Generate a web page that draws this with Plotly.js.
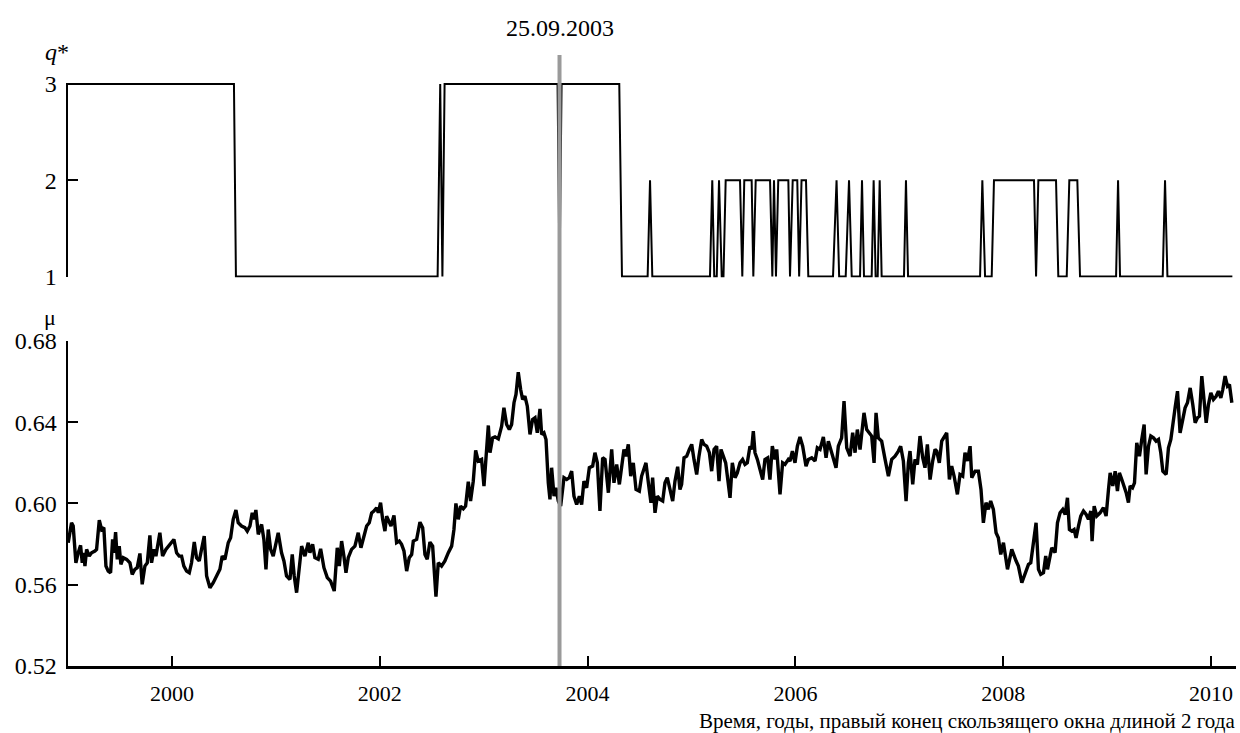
<!DOCTYPE html>
<html>
<head>
<meta charset="utf-8">
<script src="https://cdn.plot.ly/plotly-3.0.1.min.js"></script>
<style>html,body{margin:0;padding:0;background:#fff;}#chart{width:1240px;height:733px;}</style>
</head>
<body>
<div id="chart"></div>
<script>
// ---- Data ----
// q* : optimal number of components (vertices of the weekly step line)
const qYears = [1999.0, 2000.597, 2000.616, 2002.557, 2002.582, 2002.603, 2002.624,
  2003.711, 2003.730, 2003.750, 2004.305, 2004.331,
  2004.578, 2004.601, 2004.623,
  2005.178, 2005.200, 2005.219, 2005.243, 2005.265, 2005.291, 2005.308, 2005.329,
  2005.467, 2005.489, 2005.508, 2005.579, 2005.595, 2005.618, 2005.756, 2005.778,
  2005.794, 2005.813, 2005.835, 2005.932, 2005.948, 2005.974, 2006.018, 2006.036,
  2006.059, 2006.102, 2006.124,
  2006.362, 2006.396, 2006.421, 2006.484, 2006.516, 2006.542, 2006.622, 2006.641,
  2006.660, 2006.734, 2006.753, 2006.772, 2006.792, 2006.811, 2006.830,
  2007.045, 2007.064, 2007.084,
  2007.777, 2007.799, 2007.825, 2007.889, 2007.911, 2008.296, 2008.316, 2008.338,
  2008.508, 2008.530, 2008.611, 2008.636, 2008.713, 2008.739,
  2009.086, 2009.105, 2009.124, 2009.535, 2009.557, 2009.580, 2010.205];
const qValues = [3, 3, 1, 1, 3, 1, 3,
  3, 1, 3, 3, 1,
  1, 2, 1,
  1, 2, 1, 1, 2, 1, 1, 2,
  2, 1, 2, 2, 1, 2, 2, 1,
  2, 1, 2, 2, 1, 2, 2, 1,
  2, 2, 1,
  1, 2, 1, 1, 2, 1, 1, 2,
  1, 1, 2, 1, 1, 2, 1,
  1, 2, 1,
  1, 2, 1, 1, 2, 2, 1, 2,
  2, 1, 1, 2, 2, 1,
  1, 2, 1, 1, 2, 1, 1];

// mu : weekly values
const muYears = [
1999.002,1999.034,1999.050,1999.076,1999.098,1999.121,1999.137,1999.153,1999.163,1999.179,
1999.204,1999.227,1999.259,1999.275,1999.301,1999.323,1999.345,1999.365,1999.387,1999.410,
1999.429,1999.442,1999.458,1999.474,1999.493,1999.509,1999.532,1999.564,1999.596,1999.618,
1999.644,1999.666,1999.692,1999.714,1999.740,1999.763,1999.788,1999.804,1999.827,1999.846,
1999.884,1999.910,1999.942,1999.981,2000.019,2000.045,2000.070,2000.093,2000.115,2000.141,
2000.167,2000.189,2000.215,2000.237,2000.263,2000.285,2000.311,2000.334,2000.366,2000.398,
2000.430,2000.462,2000.484,2000.510,2000.542,2000.565,2000.590,2000.616,2000.638,2000.670,
2000.702,2000.725,2000.751,2000.773,2000.792,2000.808,2000.831,2000.863,2000.885,2000.905,
2000.927,2000.950,2000.975,2001.023,2001.055,2001.078,2001.103,2001.136,2001.158,2001.177,
2001.200,2001.225,2001.248,2001.280,2001.312,
2001.328,2001.354,2001.376,2001.408,2001.431,2001.463,2001.495,2001.527,2001.562,2001.591,
2001.611,2001.633,2001.655,2001.675,2001.697,2001.729,2001.761,2001.793,2001.819,2001.848,
2001.874,2001.899,2001.922,2001.944,2001.970,2001.986,2002.008,2002.028,2002.050,2002.066,
2002.092,2002.108,2002.137,2002.162,2002.188,2002.210,2002.233,2002.259,2002.284,2002.307,
2002.323,2002.355,2002.387,2002.413,2002.435,2002.457,2002.483,2002.509,2002.541,2002.563,
2002.595,2002.627,2002.660,2002.692,2002.714,2002.733,2002.756,2002.778,2002.804,2002.826,
2002.852,2002.874,2002.900,2002.923,2002.948,2002.980,2003.003,2003.022,2003.045,2003.061,
2003.086,2003.109,2003.141,2003.173,2003.195,2003.221,2003.247,2003.269,2003.292,2003.311,
2003.333,2003.356,2003.375,2003.397,2003.420,2003.446,2003.471,2003.494,2003.516,2003.542,
2003.558,2003.580,2003.600,2003.622,2003.638,
2003.654,2003.677,2003.696,2003.718,2003.741,2003.773,2003.799,2003.824,2003.847,2003.869,
2003.895,2003.921,2003.943,2003.965,2003.991,2004.017,2004.049,2004.071,2004.094,2004.119,
2004.145,2004.168,2004.200,2004.232,2004.254,2004.280,2004.306,2004.328,2004.350,2004.370,
2004.392,2004.415,2004.440,2004.466,2004.498,2004.520,2004.562,2004.585,2004.610,2004.626,
2004.649,2004.671,2004.697,2004.723,2004.745,2004.767,2004.793,2004.819,2004.841,2004.867,
2004.889,2004.905,2004.928,2004.954,2004.979,2005.002,2005.024,2005.050,2005.072,2005.098,
2005.120,2005.146,2005.172,2005.194,2005.217,2005.242,2005.265,2005.284,2005.306,2005.329,
2005.345,2005.371,2005.393,2005.419,2005.441,2005.467,2005.492,2005.515,2005.537,2005.563,
2005.579,2005.595,2005.611,2005.634,2005.659,2005.685,2005.707,2005.733,2005.755,2005.778,
2005.804,2005.820,2005.852,2005.877,2005.900,2005.932,
2005.948,2005.971,2005.996,2006.019,2006.044,2006.070,2006.102,2006.125,2006.157,2006.189,
2006.211,2006.237,2006.269,2006.295,2006.317,2006.340,2006.365,2006.391,2006.413,2006.445,
2006.468,2006.494,2006.526,2006.551,2006.574,2006.596,2006.622,2006.660,2006.686,2006.712,
2006.734,2006.757,2006.776,2006.798,2006.830,2006.863,2006.895,2006.927,2006.959,2006.991,
2007.013,2007.039,2007.065,2007.087,2007.103,2007.129,2007.151,2007.174,2007.199,2007.225,
2007.247,2007.270,2007.296,2007.321,2007.344,2007.360,2007.385,2007.408,2007.430,2007.456,
2007.482,2007.504,2007.527,2007.559,2007.584,2007.610,2007.632,2007.655,2007.681,2007.697,
2007.729,2007.761,2007.786,2007.809,2007.834,2007.857,2007.879,2007.905,2007.931,2007.953,
2007.976,
2008.002,2008.041,2008.082,2008.124,2008.146,2008.179,2008.211,2008.243,2008.265,2008.291,
2008.316,2008.339,2008.361,2008.387,2008.409,2008.426,2008.445,2008.467,2008.499,2008.522,
2008.547,2008.573,2008.596,2008.618,2008.637,2008.660,2008.682,2008.701,2008.724,2008.746,
2008.772,2008.798,2008.820,2008.843,2008.855,2008.875,2008.900,2008.932,2008.964,2008.990,
2009.013,2009.029,2009.054,2009.077,2009.099,2009.118,2009.141,2009.163,2009.183,2009.205,
2009.221,2009.244,2009.263,2009.285,2009.311,2009.333,2009.356,2009.375,2009.398,2009.420,
2009.446,2009.471,2009.494,2009.516,2009.536,2009.568,2009.590,2009.613,2009.638,2009.654,
2009.677,2009.702,2009.728,2009.750,2009.773,2009.799,2009.824,2009.847,2009.869,2009.888,
2009.911,2009.933,2009.953,2009.975,2009.998,2010.023,2010.049,2010.071,2010.094,2010.113,
2010.135,2010.158,2010.177,2010.200];
const muValues = [
0.5807,0.5905,0.5889,0.5708,0.5757,0.5794,0.5708,0.5757,0.5692,0.5774,
0.5741,0.5757,0.5766,0.5774,0.5918,0.5872,0.5881,0.5692,0.5667,0.5659,
0.5823,0.5757,0.5859,0.5725,0.5790,0.5700,0.5733,0.5725,0.5708,0.5651,
0.5676,0.5684,0.5754,0.5602,0.5692,0.5708,0.5843,0.5708,0.5774,0.5741,
0.5856,0.5741,0.5774,0.5799,0.5823,0.5757,0.5741,0.5741,0.5692,0.5667,
0.5659,0.5708,0.5810,0.5733,0.5717,0.5774,0.5840,0.5643,0.5585,0.5610,
0.5643,0.5676,0.5741,0.5725,0.5807,0.5831,0.5922,0.5968,0.5905,0.5889,
0.5881,0.5864,0.5889,0.5954,0.5922,0.5968,0.5848,0.5897,0.5823,0.5676,
0.5872,0.5774,0.5741,0.5856,0.5757,0.5717,0.5643,0.5626,0.5749,0.5643,
0.5561,0.5676,0.5790,0.5741,0.5807,
0.5758,0.5799,0.5733,0.5725,0.5777,0.5684,0.5635,0.5618,0.5569,0.5782,
0.5692,0.5815,0.5741,0.5659,0.5733,0.5774,0.5790,0.5856,0.5782,0.5840,
0.5889,0.5905,0.5954,0.5963,0.5979,0.5954,0.6004,0.5922,0.5864,0.5938,
0.5913,0.5889,0.5941,0.5807,0.5815,0.5799,0.5766,0.5667,0.5733,0.5749,
0.5815,0.5823,0.5908,0.5881,0.5749,0.5725,0.5810,0.5790,0.5541,0.5708,
0.5692,0.5717,0.5758,0.5790,0.5872,0.6000,0.5922,0.5987,0.5974,0.5987,
0.6107,0.6012,0.6110,0.6261,0.6209,0.6217,0.6086,0.6250,0.6384,0.6250,
0.6323,0.6328,0.6318,0.6381,0.6471,0.6389,0.6364,0.6389,0.6496,0.6537,
0.6646,0.6561,0.6512,0.6528,0.6479,0.6340,0.6414,0.6422,0.6348,0.6466,
0.6340,0.6348,0.6315,0.6102,0.6020,
0.6176,0.6036,0.6077,0.6012,0.5987,0.6127,0.6118,0.6127,0.6159,0.6036,
0.5995,0.6036,0.5995,0.6110,0.6077,0.6176,0.6184,0.6250,0.6200,0.5963,
0.6225,0.6217,0.6053,0.6266,0.6102,0.6192,0.6094,0.6168,0.6266,0.6233,
0.6291,0.6135,0.6200,0.6069,0.6061,0.6135,0.6200,0.6102,0.6004,0.6127,
0.5954,0.6036,0.6020,0.6012,0.6102,0.6127,0.6069,0.6012,0.6110,0.6181,
0.6069,0.6094,0.6225,0.6233,0.6266,0.6291,0.6217,0.6143,0.6233,0.6315,
0.6291,0.6282,0.6250,0.6159,0.6266,0.6282,0.6110,0.6266,0.6233,0.6200,
0.6135,0.6028,0.6200,0.6127,0.6151,0.6200,0.6217,0.6192,0.6200,0.6282,
0.6266,0.6356,0.6250,0.6217,0.6168,0.6118,0.6217,0.6225,0.6118,0.6282,
0.6217,0.6266,0.6045,0.6200,0.6192,0.6217,
0.6209,0.6258,0.6200,0.6282,0.6328,0.6282,0.6184,0.6217,0.6225,0.6209,
0.6274,0.6266,0.6328,0.6225,0.6307,0.6266,0.6217,0.6176,0.6282,0.6323,
0.6504,0.6274,0.6233,0.6348,0.6250,0.6364,0.6266,0.6446,0.6364,0.6348,
0.6332,0.6200,0.6446,0.6323,0.6307,0.6217,0.6135,0.6217,0.6233,0.6258,
0.6282,0.6209,0.6012,0.6200,0.6258,0.6094,0.6217,0.6192,0.6332,0.6225,
0.6176,0.6291,0.6118,0.6209,0.6266,0.6258,0.6200,0.6307,0.6323,0.6348,
0.6118,0.6184,0.6135,0.6045,0.6143,0.6135,0.6250,0.6209,0.6282,0.6127,
0.6159,0.6159,0.6069,0.5905,0.6004,0.5971,0.6012,0.5971,0.5856,0.5831,
0.5749,
0.5807,0.5676,0.5774,0.5717,0.5692,0.5610,0.5659,0.5700,0.5708,0.5823,
0.5905,0.5676,0.5651,0.5659,0.5741,0.5676,0.5733,0.5782,0.5758,0.5905,
0.5954,0.5971,0.5946,0.6028,0.5872,0.5864,0.5872,0.5831,0.5889,0.5938,
0.5963,0.5946,0.5922,0.5963,0.5815,0.5987,0.5938,0.5954,0.5979,0.5938,
0.6069,0.6151,0.6086,0.6159,0.6061,0.6151,0.6118,0.6086,0.6053,0.6004,
0.6086,0.6077,0.6102,0.6299,0.6233,0.6315,0.6389,0.6143,0.6282,0.6332,
0.6323,0.6307,0.6315,0.6250,0.6159,0.6143,0.6274,0.6315,0.6397,0.6471,
0.6553,0.6348,0.6414,0.6471,0.6496,0.6569,0.6487,0.6397,0.6422,0.6430,
0.6627,0.6496,0.6397,0.6487,0.6545,0.6512,0.6528,0.6553,0.6520,0.6561,
0.6627,0.6578,0.6586,0.6496];

const eventYear = 2003.73;
const eventLabel = '25.09.2003';
const xTickVals = [2000, 2002, 2004, 2006, 2008, 2010];
const muTickVals = [0.52, 0.56, 0.60, 0.64, 0.68];
const qTickVals = [1, 2, 3];
const xTitle = 'Время, годы, правый конец скользящего окна длиной 2 года';
const qLabel = '<i>q</i>*';
const muLabel = 'μ';

// ---- Chart ----
const FONT = '"Liberation Serif", "Times New Roman", serif';
const traces = [
  {x: muYears, y: muValues, type: 'scatter', mode: 'lines', xaxis: 'x', yaxis: 'y',
   line: {color: '#000', width: 3.4}, hoverinfo: 'skip'},
  {x: qYears, y: qValues, type: 'scatter', mode: 'lines', xaxis: 'x', yaxis: 'y2',
   line: {color: '#000', width: 2}, hoverinfo: 'skip'}
];

const axisCommon = {
  showline: true, linecolor: '#000', linewidth: 2.5, ticks: 'inside', ticklen: 10,
  tickwidth: 2, tickcolor: '#000', showgrid: false, zeroline: false,
  tickfont: {family: FONT, size: 24, color: '#000'}
};

const layout = {
  width: 1240, height: 733,
  margin: {l: 68, r: 4, t: 83, b: 67},
  paper_bgcolor: '#fff', plot_bgcolor: '#fff',
  showlegend: false,
  font: {family: FONT, size: 22, color: '#000'},
  xaxis: Object.assign({}, axisCommon, {range: [1999.0, 2010.24], tickvals: xTickVals,
    anchor: 'y', ticklabelstandoff: 6, tickfont: {family: FONT, size: 22, color: '#000'}}),
  yaxis: Object.assign({}, axisCommon, {domain: [0, 0.5575], range: [0.52, 0.68],
    tickvals: muTickVals, tickformat: '.2f', anchor: 'x', ticklabelstandoff: 4}),
  yaxis2: Object.assign({}, axisCommon, {domain: [0.6664, 1], range: [0.99, 3.01],
    tickvals: qTickVals, anchor: 'x', ticklabelstandoff: 4}),
  shapes: [{type: 'line', xref: 'x', yref: 'paper', x0: eventYear, x1: eventYear,
    y0: 0, y1: 1.048, line: {color: '#9a9a9a', width: 4}, layer: 'above'}],
  annotations: [
    {text: eventLabel, xref: 'x', yref: 'paper', x: eventYear, y: 1.094,
     xanchor: 'center', yanchor: 'middle', showarrow: false, font: {family: FONT, size: 24}},
    {text: qLabel, xref: 'paper', yref: 'paper', x: -0.009, y: 1.053,
     xanchor: 'center', yanchor: 'middle', showarrow: false, font: {family: FONT, size: 24}},
    {text: muLabel, xref: 'paper', yref: 'paper', x: -0.015, y: 0.598,
     xanchor: 'center', yanchor: 'middle', showarrow: false, font: {family: FONT, size: 22}},
    {text: xTitle, xref: 'paper', yref: 'paper', x: 1.0009, y: -0.094,
     xanchor: 'right', yanchor: 'middle', showarrow: false, font: {family: FONT, size: 21}}
  ]
};

Plotly.newPlot('chart', traces, layout, {displayModeBar: false, staticPlot: true});
</script>
</body>
</html>
